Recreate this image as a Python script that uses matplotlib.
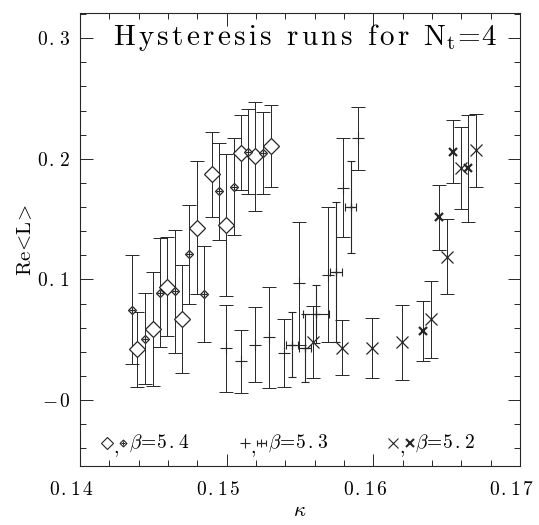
import matplotlib
matplotlib.use('Agg')
import matplotlib.pyplot as plt
import matplotlib.transforms as mtransforms
from matplotlib.ticker import MultipleLocator

plt.rcParams['font.family'] = ['cmr10', 'DejaVu Sans']
plt.rcParams['mathtext.fontset'] = 'cm'
plt.rcParams['axes.unicode_minus'] = False

# ---------------- data ----------------
# beta = 5.4, large open diamonds
k_dia = [0.1439, 0.14495, 0.14595, 0.14693, 0.14795, 0.14898, 0.14995, 0.15095, 0.15195, 0.1530]
v_dia = [0.042, 0.059, 0.094, 0.067, 0.143, 0.187, 0.145, 0.205, 0.202, 0.211]
e_dia = [0.031, 0.047, 0.041, 0.045, 0.055, 0.035, 0.059, 0.031, 0.045, 0.034]

# beta = 5.4, small diamonds
k_sdia = [0.14355, 0.14445, 0.14545, 0.1465, 0.14745, 0.14845, 0.14945, 0.1505, 0.15145, 0.15245]
v_sdia = [0.075, 0.051, 0.089, 0.090, 0.121, 0.088, 0.173, 0.177, 0.206, 0.205]
e_sdia = [0.045, 0.038, 0.045, 0.051, 0.041, 0.040, 0.040, 0.040, 0.035, 0.034]

# beta = 5.3, plain plus
k_plus = [0.14995, 0.15095, 0.15193, 0.1529, 0.1539, 0.15495, 0.15693, 0.15795, 0.15898]
v_plus = [0.043, 0.032, 0.046, 0.052, 0.039, 0.097, 0.104, 0.176, 0.217]
e_plus = [0.036, 0.026, 0.031, 0.042, 0.028, 0.051, 0.056, 0.041, 0.026]

# beta = 5.3, plus with horizontal bars
k_hplus = [0.15443, 0.15536, 0.1561, 0.15743, 0.15845]
v_hplus = [0.046, 0.043, 0.071, 0.106, 0.160]
e_hplus = [0.027, 0.028, 0.024, 0.058, 0.038]
xe_hplus = [0.0004, 0.0004, 0.0009, 0.0004, 0.0004]

# beta = 5.2, large crosses
k_x = [0.1559, 0.15788, 0.15993, 0.16193, 0.16393, 0.1650, 0.16595, 0.1670]
v_x = [0.048, 0.0434, 0.0434, 0.048, 0.067, 0.119, 0.192, 0.207]
e_x = [0.030, 0.023, 0.025, 0.031, 0.032, 0.031, 0.034, 0.030]

# beta = 5.2, small dotted crosses
k_sx = [0.16341, 0.16448, 0.16545, 0.16648]
v_sx = [0.057, 0.1515, 0.206, 0.192]
e_sx = [0.025, 0.027, 0.026, 0.044]

xticks = [0.14, 0.15, 0.16, 0.17]
xticklabels = ['0.14', '0.15', '0.16', '0.17']
yticks = [0.0, 0.1, 0.2, 0.3]
yticklabels = ['-0', '0.1', '0.2', '0.3']


def mrm(s, gap):
    """Letter-spaced roman text rendered through mathtext."""
    parts = []
    for ch in s:
        if ch == ' ':
            parts.append(r'\ ')
        elif ch == '-':
            parts.append('-')
        else:
            parts.append(r'\mathrm{%s}' % ch)
    return (r'\hspace{%g}' % gap).join(parts)


# ---------------- figure ----------------
W, H = 539, 525
fig = plt.figure(figsize=(W / 100, H / 100), dpi=100)
ax = fig.add_axes([80 / W, 1 - 466 / H, 440 / W, 453 / H])

ink = '#262626'
ebkw = dict(fmt='none', ecolor=ink, elinewidth=0.7, capsize=5, capthick=0.7)

ax.errorbar(k_dia, v_dia, yerr=e_dia, **ebkw)
ax.errorbar(k_sdia, v_sdia, yerr=e_sdia, **ebkw)
ax.errorbar(k_plus, v_plus, yerr=e_plus, **ebkw)
ax.errorbar(k_hplus, v_hplus, yerr=e_hplus, xerr=xe_hplus, fmt='none', ecolor=ink,
            elinewidth=0.8, capsize=3, capthick=0.8)
ax.errorbar(k_x, v_x, yerr=e_x, **ebkw)
ax.errorbar(k_sx, v_sx, yerr=e_sx, **ebkw)

ax.plot(k_dia, v_dia, 'D', ms=8.5, mfc='white', mec=ink, mew=0.9, ls='none', zorder=5)
ax.plot(k_sdia, v_sdia, 'D', ms=4, mfc='white', mec=ink, mew=0.9, ls='none', zorder=5)
ax.plot(k_sdia, v_sdia, '+', ms=4, mec=ink, mew=0.8, ls='none', zorder=6)
ax.plot(k_plus, v_plus, '+', ms=8, mec=ink, mew=0.8, ls='none', zorder=5)
ax.plot(k_hplus, v_hplus, '+', ms=6, mec=ink, mew=0.9, ls='none', zorder=5)
ax.plot(k_x, v_x, 'x', ms=8, mec=ink, mew=0.9, ls='none', zorder=5)
ax.plot(k_sx, v_sx, 'x', ms=6, mec=ink, mew=1.6, ls='none', zorder=5)

ax.set_xlim(0.140, 0.170)
ax.set_ylim(-0.0547, 0.3209)

ax.set_xticks(xticks)
ax.set_xticklabels(['$' + mrm(t, 0.1) + '$' for t in xticklabels])
ax.set_yticks(yticks)
ax.set_yticklabels(['$' + mrm(t, 0.12) + '$' for t in yticklabels])
ax.xaxis.set_minor_locator(MultipleLocator(0.002))
ax.yaxis.set_minor_locator(MultipleLocator(0.02))
ax.tick_params(which='both', direction='in', top=True, right=True, color=ink, width=0.7)
ax.tick_params(which='major', length=9)
ax.tick_params(which='minor', length=4.5)
ax.tick_params(axis='x', which='major', pad=11, labelsize=14)
ax.tick_params(axis='y', which='major', pad=7, labelsize=14)
for sp in ax.spines.values():
    sp.set_linewidth(0.8)
    sp.set_color(ink)

# the original's x tick labels sit slightly left of their ticks
shift = mtransforms.ScaledTranslation(-6 / 72, 0, fig.dpi_scale_trans)
for lab in ax.get_xticklabels():
    lab.set_transform(lab.get_transform() + shift)

ax.set_xlabel(r'$\kappa$', fontsize=15, labelpad=2)
ax.set_ylabel(r'$\mathrm{Re}\!<\!\mathrm{L}\!>$', fontsize=15, labelpad=1)

title = '$' + mrm('Hysteresis runs for N', 0.13) + r'_{\mathrm{t}}' + r'\!=\!' + r'\mathrm{4}$'
ax.text(0.511, 0.947, title, transform=ax.transAxes,
        ha='center', va='center', fontsize=21)


def beta_label(val):
    return r'$\beta\!=\!' + mrm(val, 0.12) + '$'


# legend row inside the plot
ly = -0.036
ax.plot([0.14185], [ly], 'D', ms=6, mfc='white', mec=ink, mew=0.8)
ax.text(0.14225, ly - 0.004, ',', fontsize=14, ha='left', va='center')
ax.plot([0.1429], [ly], 'D', ms=3.5, mfc='white', mec=ink, mew=0.8)
ax.plot([0.1429], [ly], '+', ms=3.5, mec=ink, mew=0.7)
ax.text(0.14335, ly, beta_label('5.4'), fontsize=14, ha='left', va='center')

ax.plot([0.15125], [ly], '+', ms=7, mec=ink, mew=0.8)
ax.text(0.15165, ly - 0.004, ',', fontsize=14, ha='left', va='center')
ax.errorbar([0.15235], [ly], xerr=[0.0003], fmt='+', ms=6, mec=ink, ecolor=ink, mew=0.8,
            elinewidth=0.8, capsize=2)
ax.text(0.15285, ly, beta_label('5.3'), fontsize=14, ha='left', va='center')

ax.plot([0.16135], [ly], 'x', ms=7, mec=ink, mew=0.8)
ax.text(0.16175, ly - 0.004, ',', fontsize=14, ha='left', va='center')
ax.plot([0.1625], [ly], 'x', ms=5.5, mec=ink, mew=1.5)
ax.text(0.16285, ly, beta_label('5.2'), fontsize=14, ha='left', va='center')

fig.savefig('out.png', dpi=100)
